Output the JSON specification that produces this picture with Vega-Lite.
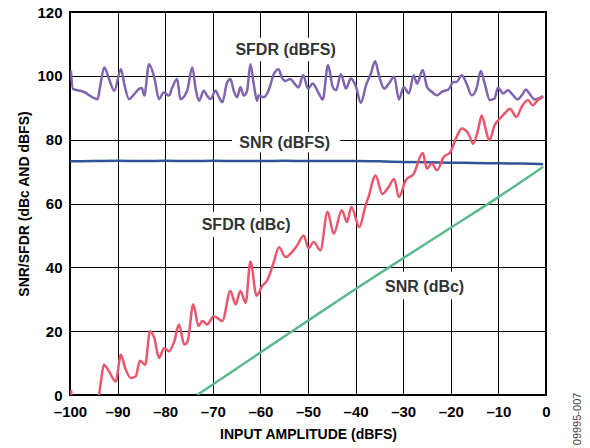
{
  "$schema": "https://vega.github.io/schema/vega-lite/v6.json",
  "width": 476,
  "height": 383,
  "autosize": {"type": "none"},
  "padding": {"left": 70, "top": 12, "right": 44, "bottom": 53},
  "background": "white",
  "config": {
    "view": {"stroke": "black", "strokeWidth": 2},
    "font": "Liberation Sans",
    "axis": {
      "grid": true, "gridColor": "black", "gridWidth": 1, "gridOpacity": 1,
      "domain": false, "ticks": false, "labelFlush": false,
      "labelFont": "Liberation Sans", "labelFontWeight": "bold", "labelFontSize": 15, "labelColor": "black",
      "titleFont": "Liberation Sans", "titleFontWeight": "bold", "titleFontSize": 14, "titleColor": "black"
    }
  },
  "datasets": {
    "curves": [
      {"series": "SFDR (dBFS)", "x": -99.8, "v": 101.6},
      {"series": "SFDR (dBFS)", "x": -99.4, "v": 95.9},
      {"series": "SFDR (dBFS)", "x": -97.3, "v": 95.1},
      {"series": "SFDR (dBFS)", "x": -94.2, "v": 92.7},
      {"series": "SFDR (dBFS)", "x": -93.7, "v": 96.4},
      {"series": "SFDR (dBFS)", "x": -92.8, "v": 102.6},
      {"series": "SFDR (dBFS)", "x": -91.8, "v": 99.0},
      {"series": "SFDR (dBFS)", "x": -90.7, "v": 95.3},
      {"series": "SFDR (dBFS)", "x": -89.3, "v": 102.1},
      {"series": "SFDR (dBFS)", "x": -88.6, "v": 97.4},
      {"series": "SFDR (dBFS)", "x": -87.6, "v": 92.7},
      {"series": "SFDR (dBFS)", "x": -86.5, "v": 94.3},
      {"series": "SFDR (dBFS)", "x": -85.5, "v": 95.9},
      {"series": "SFDR (dBFS)", "x": -84.9, "v": 96.2},
      {"series": "SFDR (dBFS)", "x": -84.4, "v": 93.8},
      {"series": "SFDR (dBFS)", "x": -83.4, "v": 103.6},
      {"series": "SFDR (dBFS)", "x": -82.3, "v": 99.5},
      {"series": "SFDR (dBFS)", "x": -81.3, "v": 92.7},
      {"series": "SFDR (dBFS)", "x": -80.3, "v": 94.8},
      {"series": "SFDR (dBFS)", "x": -79.2, "v": 93.8},
      {"series": "SFDR (dBFS)", "x": -78.5, "v": 96.4},
      {"series": "SFDR (dBFS)", "x": -77.5, "v": 99.0},
      {"series": "SFDR (dBFS)", "x": -76.8, "v": 92.7},
      {"series": "SFDR (dBFS)", "x": -75.4, "v": 95.3},
      {"series": "SFDR (dBFS)", "x": -74.3, "v": 102.6},
      {"series": "SFDR (dBFS)", "x": -73.6, "v": 95.9},
      {"series": "SFDR (dBFS)", "x": -72.9, "v": 92.2},
      {"series": "SFDR (dBFS)", "x": -71.9, "v": 95.3},
      {"series": "SFDR (dBFS)", "x": -71.2, "v": 93.8},
      {"series": "SFDR (dBFS)", "x": -70.5, "v": 92.7},
      {"series": "SFDR (dBFS)", "x": -69.4, "v": 95.3},
      {"series": "SFDR (dBFS)", "x": -68.7, "v": 93.3},
      {"series": "SFDR (dBFS)", "x": -68.0, "v": 91.7},
      {"series": "SFDR (dBFS)", "x": -67.0, "v": 97.9},
      {"series": "SFDR (dBFS)", "x": -66.3, "v": 99.0},
      {"series": "SFDR (dBFS)", "x": -65.6, "v": 95.3},
      {"series": "SFDR (dBFS)", "x": -64.9, "v": 93.3},
      {"series": "SFDR (dBFS)", "x": -64.2, "v": 96.4},
      {"series": "SFDR (dBFS)", "x": -63.5, "v": 93.8},
      {"series": "SFDR (dBFS)", "x": -62.8, "v": 95.3},
      {"series": "SFDR (dBFS)", "x": -62.1, "v": 103.6},
      {"series": "SFDR (dBFS)", "x": -61.4, "v": 97.4},
      {"series": "SFDR (dBFS)", "x": -60.7, "v": 92.2},
      {"series": "SFDR (dBFS)", "x": -60.4, "v": 93.8},
      {"series": "SFDR (dBFS)", "x": -59.3, "v": 93.3},
      {"series": "SFDR (dBFS)", "x": -58.3, "v": 95.3},
      {"series": "SFDR (dBFS)", "x": -57.2, "v": 100.5},
      {"series": "SFDR (dBFS)", "x": -56.2, "v": 102.1},
      {"series": "SFDR (dBFS)", "x": -55.5, "v": 99.5},
      {"series": "SFDR (dBFS)", "x": -54.8, "v": 98.4},
      {"series": "SFDR (dBFS)", "x": -53.7, "v": 99.0},
      {"series": "SFDR (dBFS)", "x": -53.0, "v": 97.9},
      {"series": "SFDR (dBFS)", "x": -52.0, "v": 96.4},
      {"series": "SFDR (dBFS)", "x": -51.0, "v": 100.3},
      {"series": "SFDR (dBFS)", "x": -50.0, "v": 96.0},
      {"series": "SFDR (dBFS)", "x": -49.0, "v": 97.6},
      {"series": "SFDR (dBFS)", "x": -47.9, "v": 95.0},
      {"series": "SFDR (dBFS)", "x": -46.9, "v": 92.6},
      {"series": "SFDR (dBFS)", "x": -45.8, "v": 103.4},
      {"series": "SFDR (dBFS)", "x": -44.8, "v": 96.5},
      {"series": "SFDR (dBFS)", "x": -44.1, "v": 95.5},
      {"series": "SFDR (dBFS)", "x": -43.1, "v": 100.5},
      {"series": "SFDR (dBFS)", "x": -42.0, "v": 96.0},
      {"series": "SFDR (dBFS)", "x": -41.0, "v": 99.2},
      {"series": "SFDR (dBFS)", "x": -39.9, "v": 96.5},
      {"series": "SFDR (dBFS)", "x": -38.9, "v": 91.5},
      {"series": "SFDR (dBFS)", "x": -37.8, "v": 97.1},
      {"series": "SFDR (dBFS)", "x": -36.8, "v": 100.7},
      {"series": "SFDR (dBFS)", "x": -35.9, "v": 104.6},
      {"series": "SFDR (dBFS)", "x": -35.1, "v": 100.2},
      {"series": "SFDR (dBFS)", "x": -34.0, "v": 96.0},
      {"series": "SFDR (dBFS)", "x": -33.0, "v": 97.6},
      {"series": "SFDR (dBFS)", "x": -31.9, "v": 99.7},
      {"series": "SFDR (dBFS)", "x": -30.9, "v": 92.6},
      {"series": "SFDR (dBFS)", "x": -29.9, "v": 96.5},
      {"series": "SFDR (dBFS)", "x": -28.8, "v": 94.5},
      {"series": "SFDR (dBFS)", "x": -27.8, "v": 100.2},
      {"series": "SFDR (dBFS)", "x": -27.1, "v": 97.6},
      {"series": "SFDR (dBFS)", "x": -25.9, "v": 101.8},
      {"series": "SFDR (dBFS)", "x": -25.0, "v": 96.5},
      {"series": "SFDR (dBFS)", "x": -24.0, "v": 95.0},
      {"series": "SFDR (dBFS)", "x": -22.9, "v": 93.9},
      {"series": "SFDR (dBFS)", "x": -21.9, "v": 95.0},
      {"series": "SFDR (dBFS)", "x": -20.5, "v": 95.7},
      {"series": "SFDR (dBFS)", "x": -19.4, "v": 98.1},
      {"series": "SFDR (dBFS)", "x": -18.8, "v": 98.1},
      {"series": "SFDR (dBFS)", "x": -17.7, "v": 100.2},
      {"series": "SFDR (dBFS)", "x": -16.7, "v": 97.6},
      {"series": "SFDR (dBFS)", "x": -15.6, "v": 93.9},
      {"series": "SFDR (dBFS)", "x": -14.6, "v": 96.0},
      {"series": "SFDR (dBFS)", "x": -13.7, "v": 101.5},
      {"series": "SFDR (dBFS)", "x": -12.8, "v": 97.1},
      {"series": "SFDR (dBFS)", "x": -11.8, "v": 92.4},
      {"series": "SFDR (dBFS)", "x": -10.8, "v": 92.9},
      {"series": "SFDR (dBFS)", "x": -10.1, "v": 96.3},
      {"series": "SFDR (dBFS)", "x": -9.0, "v": 94.5},
      {"series": "SFDR (dBFS)", "x": -8.0, "v": 95.5},
      {"series": "SFDR (dBFS)", "x": -6.9, "v": 93.9},
      {"series": "SFDR (dBFS)", "x": -6.0, "v": 92.6},
      {"series": "SFDR (dBFS)", "x": -5.1, "v": 93.9},
      {"series": "SFDR (dBFS)", "x": -4.2, "v": 95.7},
      {"series": "SFDR (dBFS)", "x": -3.5, "v": 94.5},
      {"series": "SFDR (dBFS)", "x": -2.4, "v": 92.6},
      {"series": "SFDR (dBFS)", "x": -1.6, "v": 92.9},
      {"series": "SFDR (dBFS)", "x": -0.6, "v": 93.7},

      {"series": "SNR (dBFS)", "x": -100, "v": 73.2},
      {"series": "SNR (dBFS)", "x": -95, "v": 73.3},
      {"series": "SNR (dBFS)", "x": -90, "v": 73.4},
      {"series": "SNR (dBFS)", "x": -85, "v": 73.3},
      {"series": "SNR (dBFS)", "x": -80, "v": 73.4},
      {"series": "SNR (dBFS)", "x": -75, "v": 73.3},
      {"series": "SNR (dBFS)", "x": -70, "v": 73.4},
      {"series": "SNR (dBFS)", "x": -65, "v": 73.3},
      {"series": "SNR (dBFS)", "x": -60, "v": 73.3},
      {"series": "SNR (dBFS)", "x": -55, "v": 73.4},
      {"series": "SNR (dBFS)", "x": -50, "v": 73.3},
      {"series": "SNR (dBFS)", "x": -45, "v": 73.3},
      {"series": "SNR (dBFS)", "x": -40, "v": 73.3},
      {"series": "SNR (dBFS)", "x": -35, "v": 73.2},
      {"series": "SNR (dBFS)", "x": -30, "v": 73.0},
      {"series": "SNR (dBFS)", "x": -25, "v": 72.9},
      {"series": "SNR (dBFS)", "x": -20, "v": 72.8},
      {"series": "SNR (dBFS)", "x": -15, "v": 72.7},
      {"series": "SNR (dBFS)", "x": -10, "v": 72.6},
      {"series": "SNR (dBFS)", "x": -5, "v": 72.5},
      {"series": "SNR (dBFS)", "x": -0.6, "v": 72.3},

      {"series": "SNR (dBc)", "x": -73.3, "v": 0},
      {"series": "SNR (dBc)", "x": -60, "v": 13.3},
      {"series": "SNR (dBc)", "x": -52, "v": 21.3},
      {"series": "SNR (dBc)", "x": -40, "v": 33.2},
      {"series": "SNR (dBc)", "x": -33, "v": 40.0},
      {"series": "SNR (dBc)", "x": -20, "v": 52.4},
      {"series": "SNR (dBc)", "x": -10, "v": 62.0},
      {"series": "SNR (dBc)", "x": -0.6, "v": 71.5},

      {"series": "SFDR (dBc)", "x": -99.8, "v": 1.6},
      {"series": "SFDR (dBc)", "x": -99.4, "v": -2},
      {"series": "SFDR (dBc)", "x": -94.2, "v": -2},
      {"series": "SFDR (dBc)", "x": -93.5, "v": 4.2},
      {"series": "SFDR (dBc)", "x": -92.9, "v": 9.5},
      {"series": "SFDR (dBc)", "x": -91.8, "v": 7.4},
      {"series": "SFDR (dBc)", "x": -90.4, "v": 4.2},
      {"series": "SFDR (dBc)", "x": -89.3, "v": 12.6},
      {"series": "SFDR (dBc)", "x": -88.4, "v": 8.4},
      {"series": "SFDR (dBc)", "x": -87.2, "v": 5.3},
      {"series": "SFDR (dBc)", "x": -86.2, "v": 5.8},
      {"series": "SFDR (dBc)", "x": -85.3, "v": 10.7},
      {"series": "SFDR (dBc)", "x": -84.2, "v": 9.5},
      {"series": "SFDR (dBc)", "x": -83.2, "v": 20.0},
      {"series": "SFDR (dBc)", "x": -82.3, "v": 17.9},
      {"series": "SFDR (dBc)", "x": -81.3, "v": 11.6},
      {"series": "SFDR (dBc)", "x": -80.2, "v": 14.7},
      {"series": "SFDR (dBc)", "x": -79.2, "v": 13.7},
      {"series": "SFDR (dBc)", "x": -78.1, "v": 16.8},
      {"series": "SFDR (dBc)", "x": -77.1, "v": 22.1},
      {"series": "SFDR (dBc)", "x": -76.0, "v": 15.8},
      {"series": "SFDR (dBc)", "x": -75.3, "v": 16.8},
      {"series": "SFDR (dBc)", "x": -74.1, "v": 28.4},
      {"series": "SFDR (dBc)", "x": -73.0, "v": 21.6},
      {"series": "SFDR (dBc)", "x": -72.2, "v": 23.2},
      {"series": "SFDR (dBc)", "x": -71.2, "v": 22.1},
      {"series": "SFDR (dBc)", "x": -69.8, "v": 24.7},
      {"series": "SFDR (dBc)", "x": -68.0, "v": 23.2},
      {"series": "SFDR (dBc)", "x": -66.3, "v": 32.6},
      {"series": "SFDR (dBc)", "x": -65.2, "v": 28.4},
      {"series": "SFDR (dBc)", "x": -64.2, "v": 32.6},
      {"series": "SFDR (dBc)", "x": -63.1, "v": 28.9},
      {"series": "SFDR (dBc)", "x": -62.1, "v": 41.8},
      {"series": "SFDR (dBc)", "x": -60.8, "v": 31.1},
      {"series": "SFDR (dBc)", "x": -59.6, "v": 34.2},
      {"series": "SFDR (dBc)", "x": -58.6, "v": 35.8},
      {"series": "SFDR (dBc)", "x": -57.2, "v": 41.6},
      {"series": "SFDR (dBc)", "x": -56.1, "v": 46.3},
      {"series": "SFDR (dBc)", "x": -54.7, "v": 43.2},
      {"series": "SFDR (dBc)", "x": -53.4, "v": 44.7},
      {"series": "SFDR (dBc)", "x": -52.3, "v": 46.8},
      {"series": "SFDR (dBc)", "x": -50.9, "v": 50.0},
      {"series": "SFDR (dBc)", "x": -49.9, "v": 46.0},
      {"series": "SFDR (dBc)", "x": -48.8, "v": 47.9},
      {"series": "SFDR (dBc)", "x": -47.4, "v": 45.3},
      {"series": "SFDR (dBc)", "x": -45.9, "v": 57.4},
      {"series": "SFDR (dBc)", "x": -44.6, "v": 50.5},
      {"series": "SFDR (dBc)", "x": -42.9, "v": 57.9},
      {"series": "SFDR (dBc)", "x": -41.8, "v": 54.2},
      {"series": "SFDR (dBc)", "x": -40.9, "v": 58.9},
      {"series": "SFDR (dBc)", "x": -39.2, "v": 52.6},
      {"series": "SFDR (dBc)", "x": -38.0, "v": 58.9},
      {"series": "SFDR (dBc)", "x": -37.3, "v": 62.0},
      {"series": "SFDR (dBc)", "x": -35.8, "v": 68.8},
      {"series": "SFDR (dBc)", "x": -34.4, "v": 63.0},
      {"series": "SFDR (dBc)", "x": -33.1, "v": 65.1},
      {"series": "SFDR (dBc)", "x": -31.9, "v": 67.7},
      {"series": "SFDR (dBc)", "x": -30.9, "v": 62.0},
      {"series": "SFDR (dBc)", "x": -29.5, "v": 67.2},
      {"series": "SFDR (dBc)", "x": -27.8, "v": 69.3},
      {"series": "SFDR (dBc)", "x": -25.9, "v": 75.8},
      {"series": "SFDR (dBc)", "x": -25.0, "v": 70.9},
      {"series": "SFDR (dBc)", "x": -24.0, "v": 72.5},
      {"series": "SFDR (dBc)", "x": -22.9, "v": 70.4},
      {"series": "SFDR (dBc)", "x": -21.5, "v": 74.6},
      {"series": "SFDR (dBc)", "x": -20.1, "v": 76.1},
      {"series": "SFDR (dBc)", "x": -18.8, "v": 80.8},
      {"series": "SFDR (dBc)", "x": -17.7, "v": 83.5},
      {"series": "SFDR (dBc)", "x": -16.3, "v": 81.9},
      {"series": "SFDR (dBc)", "x": -15.3, "v": 78.7},
      {"series": "SFDR (dBc)", "x": -14.2, "v": 83.5},
      {"series": "SFDR (dBc)", "x": -13.5, "v": 87.6},
      {"series": "SFDR (dBc)", "x": -12.8, "v": 84.0},
      {"series": "SFDR (dBc)", "x": -11.9, "v": 79.8},
      {"series": "SFDR (dBc)", "x": -10.8, "v": 84.5},
      {"series": "SFDR (dBc)", "x": -9.7, "v": 86.6},
      {"series": "SFDR (dBc)", "x": -8.7, "v": 88.2},
      {"series": "SFDR (dBc)", "x": -7.6, "v": 89.7},
      {"series": "SFDR (dBc)", "x": -6.2, "v": 87.1},
      {"series": "SFDR (dBc)", "x": -5.1, "v": 90.3},
      {"series": "SFDR (dBc)", "x": -3.8, "v": 92.4},
      {"series": "SFDR (dBc)", "x": -2.8, "v": 90.8},
      {"series": "SFDR (dBc)", "x": -1.7, "v": 92.4},
      {"series": "SFDR (dBc)", "x": -0.6, "v": 93.4}
    ],
    "labels": [
      {"label": "SFDR (dBFS)", "x": -54.7, "v": 108.2, "x1": -65.8, "x2": -43.7, "v1": 104.6, "v2": 111.9},
      {"label": "SNR (dBFS)", "x": -54.9, "v": 79.0, "x1": -66.0, "x2": -43.2, "v1": 76.0, "v2": 82.4},
      {"label": "SFDR (dBc)", "x": -63.0, "v": 53.4, "x1": -73.1, "x2": -52.7, "v1": 49.5, "v2": 57.4},
      {"label": "SNR (dBc)", "x": -25.5, "v": 33.7, "x1": -34.7, "x2": -16.4, "v1": 30.0, "v2": 38.6}
    ],
    "fig": [{"label": "09995-007", "x": 6.8, "v": -7.5}]
  },
  "layer": [
    {
      "data": {"name": "labels"},
      "mark": {"type": "rect", "color": "white"},
      "encoding": {
        "x": {"field": "x1", "type": "quantitative", "scale": {"domain": [-100, 0], "nice": false, "zero": false},
              "axis": {"values": [-100, -90, -80, -70, -60, -50, -40, -30, -20, -10, 0],
                       "labelExpr": "datum.value < 0 ? '\u2013' + abs(datum.value) : '' + datum.value",
                       "labelPadding": 9, "title": "INPUT AMPLITUDE (dBFS)", "titlePadding": 8}},
        "x2": {"field": "x2"},
        "y": {"field": "v1", "type": "quantitative", "scale": {"domain": [0, 120], "nice": false},
              "axis": {"values": [0, 20, 40, 60, 80, 100, 120], "labelPadding": 8,
                       "title": "SNR/SFDR (dBc AND dBFS)", "titlePadding": 5}},
        "y2": {"field": "v2"}
      }
    },
    {
      "data": {"name": "curves"},
      "mark": {"type": "line", "strokeWidth": 2.5, "interpolate": "monotone", "clip": true},
      "encoding": {
        "x": {"field": "x", "type": "quantitative"},
        "y": {"field": "v", "type": "quantitative"},
        "color": {"field": "series", "type": "nominal", "legend": null,
                  "scale": {"domain": ["SFDR (dBFS)", "SNR (dBFS)", "SFDR (dBc)", "SNR (dBc)"],
                            "range": ["#8064b0", "#2e5597", "#e9566d", "#5cb98b"]}},
        "detail": {"field": "series"}
      }
    },
    {
      "data": {"name": "labels"},
      "mark": {"type": "text", "font": "Liberation Sans", "fontWeight": "bold", "fontSize": 16, "color": "#333333", "baseline": "middle", "align": "center"},
      "encoding": {
        "x": {"field": "x", "type": "quantitative"},
        "y": {"field": "v", "type": "quantitative"},
        "text": {"field": "label"}
      }
    },
    {
      "data": {"name": "fig"},
      "mark": {"type": "text", "font": "Liberation Sans", "fontSize": 11, "color": "#444444", "angle": 270, "baseline": "middle", "align": "center", "clip": false},
      "encoding": {
        "x": {"field": "x", "type": "quantitative"},
        "y": {"field": "v", "type": "quantitative"},
        "text": {"field": "label"}
      }
    }
  ]
}
